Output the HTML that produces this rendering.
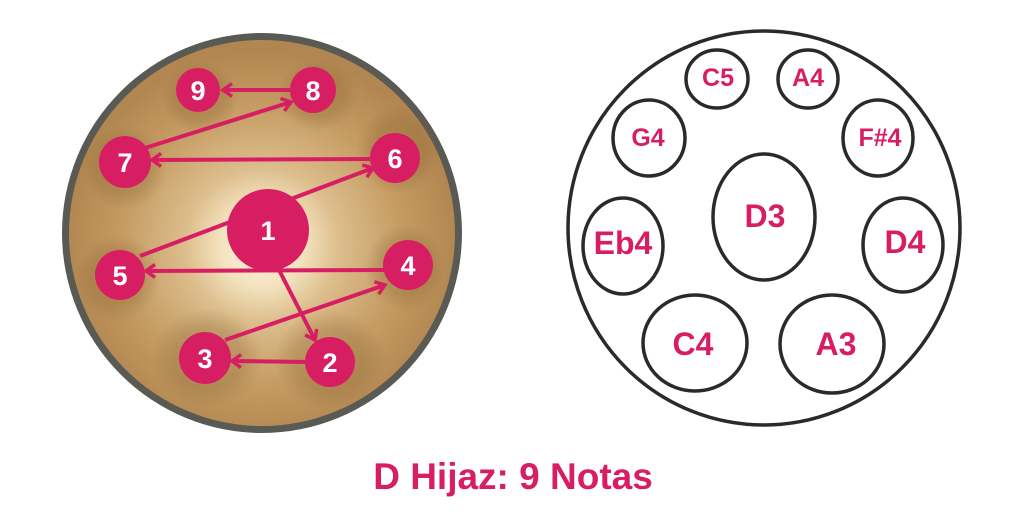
<!DOCTYPE html>
<html><head><meta charset="utf-8"><style>
html,body{margin:0;padding:0;background:#fff;width:1024px;height:512px;overflow:hidden}
svg{display:block}
text{font-family:"Liberation Sans",Arial,sans-serif;font-weight:bold}
</style></head><body>
<svg width="1024" height="512" viewBox="0 0 1024 512" xmlns="http://www.w3.org/2000/svg">
<defs>
<radialGradient id="g" cx="262" cy="245" r="195" gradientUnits="userSpaceOnUse">
<stop offset="0" stop-color="#fdf7e8"/>
<stop offset="0.22" stop-color="#f3e2bd"/>
<stop offset="0.4" stop-color="#dcbd8c"/>
<stop offset="0.7" stop-color="#c69d64"/>
<stop offset="1" stop-color="#b28650"/>
</radialGradient>
<radialGradient id="d" cx="0.5" cy="0.5" r="0.5">
<stop offset="0.6" stop-color="#8a6432" stop-opacity="0.3"/>
<stop offset="1" stop-color="#8a6432" stop-opacity="0"/>
</radialGradient>
<marker id="a" markerWidth="14" markerHeight="16" refX="11" refY="8" orient="auto" markerUnits="userSpaceOnUse">
<path d="M2,1.5 L11,8 L2,14.5" fill="none" stroke="#d81e63" stroke-width="3.5"/>
</marker>
</defs>
<circle cx="262" cy="233" r="200" fill="#5a5a54"/>
<circle cx="262" cy="233" r="193" fill="url(#g)"/>
<ellipse cx="200" cy="98" rx="38" ry="36" fill="url(#d)"/>
<ellipse cx="318" cy="95" rx="40" ry="36" fill="url(#d)"/>
<ellipse cx="125" cy="168" rx="42" ry="42" fill="url(#d)"/>
<ellipse cx="398" cy="150" rx="42" ry="44" fill="url(#d)"/>
<ellipse cx="118" cy="278" rx="42" ry="44" fill="url(#d)"/>
<ellipse cx="405" cy="268" rx="40" ry="44" fill="url(#d)"/>
<ellipse cx="207" cy="358" rx="56" ry="50" fill="url(#d)"/>
<ellipse cx="330" cy="360" rx="56" ry="50" fill="url(#d)"/>
<g stroke="#d81e63" stroke-width="4" fill="none">
<line x1="290" y1="90" x2="223" y2="90" marker-end="url(#a)"/>
<line x1="145" y1="148" x2="291" y2="102" marker-end="url(#a)"/>
<line x1="370" y1="159" x2="152" y2="160" marker-end="url(#a)"/>
<line x1="140" y1="256" x2="373" y2="168" marker-end="url(#a)"/>
<line x1="385" y1="270" x2="146" y2="271" marker-end="url(#a)"/>
<line x1="278" y1="268" x2="315" y2="340" marker-end="url(#a)"/>
<line x1="306" y1="362" x2="232" y2="361" marker-end="url(#a)"/>
<line x1="225" y1="340" x2="385" y2="285" marker-end="url(#a)"/>
</g>
<g fill="#d81e63">
<circle cx="198" cy="90" r="22"/><circle cx="313" cy="90" r="23"/>
<circle cx="125" cy="162" r="26"/><circle cx="395" cy="158" r="25"/>
<circle cx="268" cy="230" r="41"/>
<circle cx="120" cy="275" r="25"/><circle cx="408" cy="265" r="25"/>
<circle cx="205" cy="358" r="26"/><circle cx="330" cy="362" r="25"/>
</g>
<g fill="#fff" font-size="27" text-anchor="middle">
<text x="198" y="100">9</text><text x="313" y="100">8</text>
<text x="125" y="172">7</text><text x="395" y="168">6</text>
<text x="268" y="240">1</text>
<text x="120" y="285">5</text><text x="408" y="275">4</text>
<text x="205" y="368">3</text><text x="330" y="372">2</text>
</g>
<g fill="none" stroke="#2a2a2a" stroke-width="3.5">
<ellipse cx="764" cy="228" rx="196" ry="197"/>
<ellipse cx="717" cy="79" rx="31" ry="29"/>
<ellipse cx="808" cy="79" rx="30" ry="29"/>
<ellipse cx="649" cy="138" rx="36" ry="38"/>
<ellipse cx="878" cy="138" rx="35" ry="38"/>
<ellipse cx="764" cy="217" rx="51" ry="63"/>
<ellipse cx="623" cy="246" rx="40" ry="48"/>
<ellipse cx="903" cy="245" rx="40" ry="47"/>
<ellipse cx="695" cy="343" rx="52" ry="48"/>
<ellipse cx="832" cy="344" rx="52" ry="49"/>
</g>
<g fill="#d81e63" text-anchor="middle">
<text x="718" y="86" font-size="25">C5</text>
<text x="808" y="86" font-size="25">A4</text>
<text x="648" y="146" font-size="25">G4</text>
<text x="880" y="146" font-size="25">F#4</text>
<text x="765" y="227" font-size="32">D3</text>
<text x="623" y="254" font-size="32">Eb4</text>
<text x="905" y="253" font-size="32">D4</text>
<text x="693" y="355" font-size="32">C4</text>
<text x="836" y="355" font-size="32">A3</text>
</g>
<text x="513" y="489" font-size="37" fill="#d81e63" text-anchor="middle">D Hijaz: 9 Notas</text>
</svg>
</body></html>
